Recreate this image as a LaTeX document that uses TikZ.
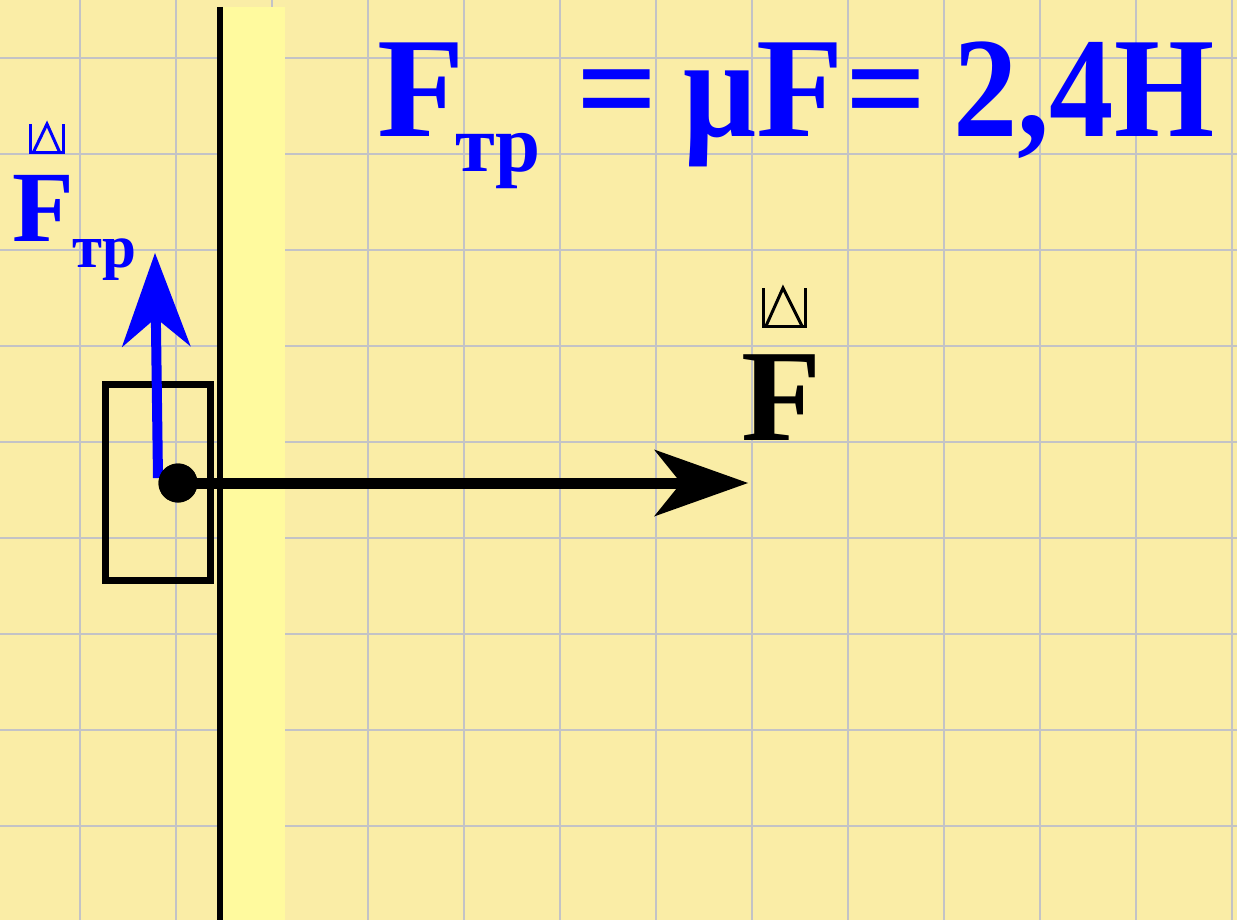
\documentclass[tikz,border=0pt]{standalone}
\usepackage{fontspec}
\setmainfont{Liberation Serif}
\usetikzlibrary{arrows.meta}
\definecolor{paper}{RGB}{250,237,166}
\definecolor{strip}{RGB}{255,250,158}
\definecolor{gridc}{RGB}{195,195,198}
\definecolor{fblue}{RGB}{0,0,255}
\begin{document}
\begin{tikzpicture}[x=1pt,y=-1pt,
  lbl/.style={inner sep=0pt, anchor=base west},
  big/.style={lbl, font=\bfseries\fontsize{143}{150}\selectfont},
  accentmark/.style={line width=3pt},
  vec/.style={line width=11pt, -{Stealth[length=94pt,width=67pt,inset=27pt,line width=0pt]}},
]
\fill[paper] (0,0) rectangle (1237,920);
\useasboundingbox (0,0) rectangle (1237,920);
% grid
\foreach \i in {0,...,12} \draw[gridc, line width=2pt] ({80+96*\i},0) -- ({80+96*\i},920);
\foreach \j in {0,...,8} \draw[gridc, line width=2pt] (0,{58+96*\j}) -- (1237,{58+96*\j});
% wall
\fill[strip] (223,7) rectangle (285,920);
\draw[line width=6pt] (220,7) -- (220,920);
% block
\node[draw, line width=7pt, minimum width=105pt, minimum height=196pt, inner sep=0pt] (block) at (157.5,482) {};
% friction force
\coordinate (ftrstart) at (158,478);
\coordinate (ftrtip) at (155,253);
\draw[vec, fblue, line width=10pt, -{Stealth[length=94pt,width=69pt,inset=29pt,line width=0pt]}] (ftrstart) -- (ftrtip);
% applied force
\node[circle, fill=black, minimum size=39pt, inner sep=0pt] (dot) at (178,483) {};
\coordinate (ftip) at (748,483);
\draw[vec] (dot.center) -- (ftip);
\node[circle, fill=black, minimum size=39pt, inner sep=0pt] at (dot) {};
% labels
\node[lbl, text=fblue, font=\bfseries\fontsize{101}{105}\selectfont] (lF) at (12,242) {F};
\node[lbl, text=fblue, font=\bfseries\fontsize{61}{65}\selectfont] (lFs) at (72,268) {тр};
\draw[accentmark, fblue] (30,124) -- (30,153) -- (63,153) -- (63,124);
\draw[accentmark, fblue] (33,153) -- (47,124) -- (60,153);
\node[lbl, text=black, font=\bfseries\fontsize{131}{135}\selectfont] (rF) at (741,440) {F};
\draw[accentmark] (763,288) -- (763,326) -- (805,326) -- (805,288);
\draw[accentmark] (766,326) -- (783,288) -- (802,326);
% formula
\node[big, text=fblue] (f1) at (377,137) {F};
\node[lbl, text=fblue, font=\bfseries\fontsize{81}{85}\selectfont] (f1s) at (455,172) {тр};
\node[big, text=fblue] (eq1) at (576,137) {=};
\node[big, text=fblue] (mu) at (683,137) {\scalebox{0.9}[1]{μ}};
\node[big, text=fblue] (f2) at (756,137) {F};
\node[big, text=fblue] (eq2) at (845,137) {=};
\node[big, text=fblue] (val) at (953,137) {\scalebox{0.9}[1]{2,4Н}};
\end{tikzpicture}
\end{document}
